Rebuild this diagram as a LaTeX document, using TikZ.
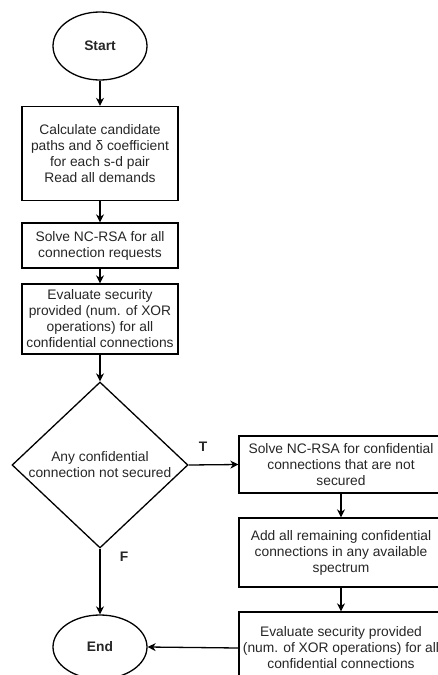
\documentclass[tikz,border=0pt]{standalone}
\usepackage{fontspec}
\setmainfont{Liberation Sans}
\usetikzlibrary{shapes.geometric,arrows.meta}
\begin{document}
\begin{tikzpicture}[x=1pt,y=-1pt,
  font=\fontsize{13.8}{16}\selectfont,
  every node/.style={text=black!85},
  procbox/.style={draw=black, line width=1.3pt, rectangle, align=center, inner sep=0pt},
  term/.style={draw=black, line width=1.3pt, ellipse, inner sep=0pt, font=\fontsize{13.8}{16}\selectfont\bfseries},
  decis/.style={draw=black, line width=1.3pt, diamond, inner sep=0pt, align=center, aspect=1.06},
  lbl/.style={font=\fontsize{13.8}{16}\selectfont\bfseries, inner sep=0pt},
  conn/.style={draw=black, line width=1.3pt, -{Stealth[length=8pt,width=8pt,inset=2.5pt]}}
]
\useasboundingbox (0,0) rectangle (438,675);
\clip (0,0) rectangle (438,675);
\node[term, minimum width=94pt, minimum height=68pt] (start) at (100,46) {Start};
\node[procbox, minimum width=156pt, minimum height=94pt] (b1) at (100,153.5)
  {Calculate candidate\\paths and δ coefficient\\for each s-d pair\\Read all demands};
\node[procbox, minimum width=156pt, minimum height=45pt] (b2) at (100,245.5)
  {Solve NC-RSA for all\\connection requests};
\node[procbox, minimum width=156pt, minimum height=70pt] (b3) at (100,319)
  {Evaluate security\\provided (num. of XOR\\operations) for all\\confidential connections};
\node[decis, minimum width=176pt, minimum height=166pt] (d) at (100,465)
  {Any confidential\\connection not secured};
\node[procbox, minimum width=204pt, minimum height=57pt] (t1) at (341,464.5)
  {Solve NC-RSA for confidential\\connections that are not\\secured};
\node[procbox, minimum width=204pt, minimum height=69pt] (t2) at (341,552.5)
  {Add all remaining confidential\\connections in any available\\spectrum};
\node[procbox, minimum width=204pt, minimum height=72pt] (t3) at (341,648)
  {Evaluate security provided\\(num. of XOR operations) for all\\confidential connections};
\node[term, minimum width=94pt, minimum height=64pt] (end) at (100,647) {End};
\node[lbl] (tl) at (203,447) {T};
\node[lbl] (fl) at (124,557) {F};
\draw[conn] (start) -- (b1);
\draw[conn] (b1) -- (b2);
\draw[conn] (b2) -- (b3);
\draw[conn] (b3) -- (d);
\draw[conn] (d.east) -- (t1.west);
\draw[conn] (d.south) -- (end.north);
\draw[conn] (t1) -- (t2);
\draw[conn] (t2) -- (t3);
\draw[conn] (t3.west) -- (end.east);
\end{tikzpicture}
\end{document}
